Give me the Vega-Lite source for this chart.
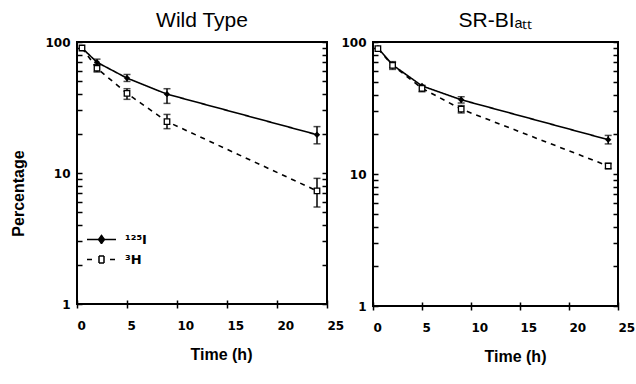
{
  "$schema": "https://vega.github.io/schema/vega-lite/v6.json",
  "background": "white",
  "padding": {"left": 9, "top": 9, "right": 4, "bottom": 0},
  "bounds": "flush",
  "spacing": 46,
  "config": {
    "view": {"stroke": "black", "strokeWidth": 2},
    "font": "Liberation Sans",
    "title": {"font": "Liberation Sans", "fontSize": 21, "fontWeight": "normal", "color": "black", "offset": 5},
    "axis": {"domain": false, "grid": false, "labelFont": "DejaVu Sans", "labelFontWeight": "bold", "labelFontSize": 12, "labelColor": "black", "tickColor": "black", "tickWidth": 1.5, "titleFont": "Liberation Sans", "titleFontWeight": "bold", "titleFontSize": 16, "titleColor": "black"}
  },
  "datasets": {
    "pts": [
      {"panel": "WT", "series": "125I", "time": 0.5, "value": 90},
      {"panel": "WT", "series": "125I", "time": 2, "value": 70},
      {"panel": "WT", "series": "125I", "time": 5, "value": 53},
      {"panel": "WT", "series": "125I", "time": 9, "value": 40},
      {"panel": "WT", "series": "125I", "time": 24, "value": 19.6},
      {"panel": "WT", "series": "3H", "time": 0.5, "value": 90},
      {"panel": "WT", "series": "3H", "time": 2, "value": 63},
      {"panel": "WT", "series": "3H", "time": 5, "value": 40.5},
      {"panel": "WT", "series": "3H", "time": 9, "value": 24.7},
      {"panel": "WT", "series": "3H", "time": 24, "value": 7.3},
      {"panel": "SR", "series": "125I", "time": 0.5, "value": 90},
      {"panel": "SR", "series": "125I", "time": 2, "value": 67},
      {"panel": "SR", "series": "125I", "time": 5, "value": 46.5},
      {"panel": "SR", "series": "125I", "time": 9, "value": 36.5},
      {"panel": "SR", "series": "125I", "time": 24, "value": 18.2},
      {"panel": "SR", "series": "3H", "time": 0.5, "value": 89},
      {"panel": "SR", "series": "3H", "time": 2, "value": 66.5},
      {"panel": "SR", "series": "3H", "time": 5, "value": 44.6},
      {"panel": "SR", "series": "3H", "time": 9, "value": 31},
      {"panel": "SR", "series": "3H", "time": 24, "value": 11.5}
    ],
    "err": [
      {"panel": "WT", "series": "125I", "time": 2, "lo": 67, "hi": 74},
      {"panel": "WT", "series": "125I", "time": 5, "lo": 50, "hi": 56.5},
      {"panel": "WT", "series": "125I", "time": 9, "lo": 34, "hi": 44},
      {"panel": "WT", "series": "125I", "time": 24, "lo": 16.7, "hi": 22.6},
      {"panel": "WT", "series": "3H", "time": 2, "lo": 59, "hi": 67},
      {"panel": "WT", "series": "3H", "time": 5, "lo": 36.5, "hi": 44},
      {"panel": "WT", "series": "3H", "time": 9, "lo": 21.8, "hi": 28},
      {"panel": "WT", "series": "3H", "time": 24, "lo": 5.5, "hi": 9.1},
      {"panel": "SR", "series": "125I", "time": 2, "lo": 64, "hi": 70},
      {"panel": "SR", "series": "125I", "time": 9, "lo": 34.5, "hi": 38.5},
      {"panel": "SR", "series": "125I", "time": 24, "lo": 16.9, "hi": 19.6},
      {"panel": "SR", "series": "3H", "time": 2, "lo": 62, "hi": 71},
      {"panel": "SR", "series": "3H", "time": 5, "lo": 42, "hi": 47},
      {"panel": "SR", "series": "3H", "time": 9, "lo": 29, "hi": 33},
      {"panel": "SR", "series": "3H", "time": 24, "lo": 11, "hi": 12}
    ]
  },
  "hconcat": [
    {
      "title": "Wild Type",
      "width": 250,
      "height": 262,
      "resolve": {"axis": {"x": "independent", "y": "independent"}},
      "layer": [
        {
          "data": {"name": "pts"},
          "transform": [{"filter": "datum.panel === 'WT'"}],
          "mark": {"type": "line", "color": "black", "strokeWidth": 1.6},
          "encoding": {
            "x": {"field": "time", "type": "quantitative", "scale": {"domain": [0, 25], "nice": false},
                  "axis": {"orient": "bottom", "values": [0, 5, 10, 15, 20, 25], "tickSize": 4, "labelPadding": 12, "labelAlign": "left", "labelDx": -1, "title": "Time (h)", "titleX": 144, "titlePadding": 15}},
            "y": {"field": "value", "type": "quantitative", "scale": {"type": "log", "domain": [1, 100], "nice": false},
                  "axis": {"orient": "left", "values": [1, 10, 100], "ticks": false, "labelPadding": 7, "title": "Percentage", "titleX": -59, "titleY": 151, "titleBaseline": "middle"}},
            "strokeDash": {"field": "series", "type": "nominal", "scale": {"domain": ["125I", "3H"], "range": [[1, 0], [5, 5]]},
              "legend": {"orient": "none", "legendX": 18, "legendY": 191, "title": null, "symbolSize": 100, "symbolStrokeWidth": 1.5, "symbolStrokeColor": "black", "labelOffset": 17, "rowPadding": 6, "labelFont": "DejaVu Sans", "labelFontSize": 13, "labelFontWeight": "bold", "labelColor": "black",
                "labelExpr": "datum.label === '125I' ? '¹²⁵I' : '³H'",
                "encode": {"symbols": {"update": {
                  "shape": {"signal": "datum.value === '3H' ? 'M-2.9,0H-1.9M1.7,0H2.7M-0.5,-0.7H0.5M0.5,-0.7V0M0.5,0V0.7M0.5,0.7H-0.5M-0.5,0.7V0M-0.5,0V-0.7' : 'M-2.9,0H2.9M0,-0.8L0.6,0L0,0.8L-0.6,0Z'"},
                  "fill": {"signal": "datum.value === '3H' ? 'white' : 'black'"},
                  "stroke": {"value": "black"},
                  "strokeDash": {"value": [1, 0]}}}}}}
          }
        },
        {
          "data": {"name": "err"},
          "transform": [{"filter": "datum.panel === 'WT'"}],
          "mark": {"type": "errorbar", "ticks": {"size": 7}, "thickness": 1.5, "color": "black"},
          "encoding": {
            "x": {"field": "time", "type": "quantitative", "axis": null},
            "y": {"field": "lo", "type": "quantitative", "axis": null},
            "y2": {"field": "hi"}
          }
        },
        {
          "data": {"name": "pts"},
          "transform": [{"filter": "datum.panel === 'WT' && datum.series === '125I'"}],
          "mark": {"type": "point", "shape": "diamond", "filled": true, "color": "black", "size": 40, "opacity": 1},
          "encoding": {
            "x": {"field": "time", "type": "quantitative", "axis": {"orient": "top", "offset": -262, "values": [0, 5, 10, 15, 20, 25], "tickSize": 4, "labels": false, "title": null}},
            "y": {"field": "value", "type": "quantitative", "axis": {"orient": "right", "offset": -250, "values": [1, 2, 3, 4, 5, 6, 7, 8, 9, 10, 20, 30, 40, 50, 60, 70, 80, 90, 100], "tickSize": 5, "labels": false, "title": null}}
          }
        },
        {
          "data": {"name": "pts"},
          "transform": [{"filter": "datum.panel === 'WT' && datum.series === '3H'"}],
          "mark": {"type": "point", "shape": "square", "filled": false, "fill": "white", "stroke": "black", "strokeWidth": 1.3, "size": 30, "opacity": 1},
          "encoding": {
            "x": {"field": "time", "type": "quantitative", "axis": null},
            "y": {"field": "value", "type": "quantitative", "axis": {"orient": "left", "offset": -250, "values": [1, 2, 3, 4, 5, 6, 7, 8, 9, 10, 20, 30, 40, 50, 60, 70, 80, 90, 100], "tickSize": 5, "labels": false, "title": null}}
          }
        }
      ]
    },
    {
      "title": "SR-BIₐₜₜ",
      "width": 245,
      "height": 264,
      "resolve": {"axis": {"x": "independent", "y": "independent"}},
      "layer": [
        {
          "data": {"name": "pts"},
          "transform": [{"filter": "datum.panel === 'SR'"}],
          "mark": {"type": "line", "color": "black", "strokeWidth": 1.6},
          "encoding": {
            "x": {"field": "time", "type": "quantitative", "scale": {"domain": [0, 25], "nice": false},
                  "axis": {"orient": "bottom", "values": [0, 5, 10, 15, 20, 25], "tickSize": 4, "labelPadding": 12, "labelAlign": "left", "labelDx": -1, "title": "Time (h)", "titleX": 142, "titlePadding": 15}},
            "y": {"field": "value", "type": "quantitative", "scale": {"type": "log", "domain": [1, 100], "nice": false},
                  "axis": {"orient": "left", "values": [1, 10, 100], "ticks": false, "labelPadding": 7, "title": null}},
            "strokeDash": {"field": "series", "type": "nominal", "scale": {"domain": ["125I", "3H"], "range": [[1, 0], [5, 5]]},
              "legend": {"orient": "none", "legendX": 22, "legendY": 198, "title": null, "symbolSize": 100, "symbolStrokeWidth": 1.5, "symbolStrokeColor": "black", "labelOffset": 24, "rowPadding": 5, "labelFont": "DejaVu Sans", "labelFontSize": 13, "labelFontWeight": "bold", "labelColor": "black",
                "labelExpr": "datum.label === '125I' ? '¹²⁵I' : '³H'",
                "encode": {"symbols": {"update": {
                  "shape": {"signal": "datum.value === '3H' ? 'M-2.9,0H-1.9M1.7,0H2.7M-0.5,-0.7H0.5M0.5,-0.7V0M0.5,0V0.7M0.5,0.7H-0.5M-0.5,0.7V0M-0.5,0V-0.7' : 'M-3.2,0H3.2M0,-0.8L0.6,0L0,0.8L-0.6,0Z'"},
                  "fill": {"signal": "datum.value === '3H' ? 'white' : 'black'"},
                  "stroke": {"value": "black"},
                  "strokeDash": {"value": [1, 0]}}}}}}
          }
        },
        {
          "data": {"name": "err"},
          "transform": [{"filter": "datum.panel === 'SR'"}],
          "mark": {"type": "errorbar", "ticks": {"size": 7}, "thickness": 1.5, "color": "black"},
          "encoding": {
            "x": {"field": "time", "type": "quantitative", "axis": null},
            "y": {"field": "lo", "type": "quantitative", "axis": null},
            "y2": {"field": "hi"}
          }
        },
        {
          "data": {"name": "pts"},
          "transform": [{"filter": "datum.panel === 'SR' && datum.series === '125I'"}],
          "mark": {"type": "point", "shape": "diamond", "filled": true, "color": "black", "size": 40, "opacity": 1},
          "encoding": {
            "x": {"field": "time", "type": "quantitative", "axis": {"orient": "top", "offset": -264, "values": [0, 5, 10, 15, 20, 25], "tickSize": 4, "labels": false, "title": null}},
            "y": {"field": "value", "type": "quantitative", "axis": {"orient": "right", "offset": -245, "values": [1, 2, 3, 4, 5, 6, 7, 8, 9, 10, 20, 30, 40, 50, 60, 70, 80, 90, 100], "tickSize": 5, "labels": false, "title": null}}
          }
        },
        {
          "data": {"name": "pts"},
          "transform": [{"filter": "datum.panel === 'SR' && datum.series === '3H'"}],
          "mark": {"type": "point", "shape": "square", "filled": false, "fill": "white", "stroke": "black", "strokeWidth": 1.3, "size": 30, "opacity": 1},
          "encoding": {
            "x": {"field": "time", "type": "quantitative", "axis": null},
            "y": {"field": "value", "type": "quantitative", "axis": {"orient": "left", "offset": -245, "values": [1, 2, 3, 4, 5, 6, 7, 8, 9, 10, 20, 30, 40, 50, 60, 70, 80, 90, 100], "tickSize": 5, "labels": false, "title": null}}
          }
        }
      ]
    }
  ]
}
